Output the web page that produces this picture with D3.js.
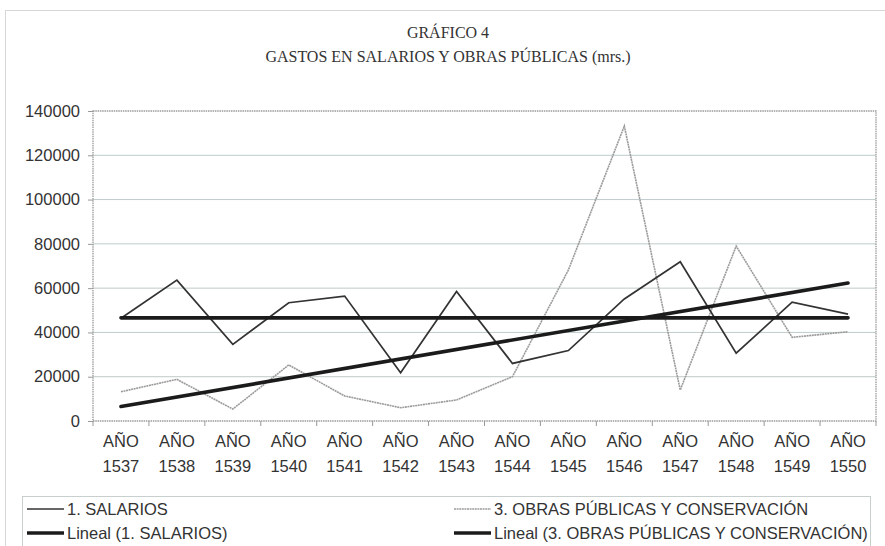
<!DOCTYPE html>
<html>
<head>
<meta charset="utf-8">
<script src="https://cdn.jsdelivr.net/npm/d3@7"></script>
<style>
  body { margin: 0; background: #fff; }
  svg { display: block; }
  .tick text { font-family: "Liberation Sans", Arial, sans-serif; fill: #333; }
</style>
</head>
<body>
<div id="chart"></div>
<script>
const YEARS= ['1537','1538','1539','1540','1541','1542','1543','1544','1545','1546','1547','1548','1549','1550'];
const SALARIOS= [46400, 63600, 34600, 53400, 56400, 21800, 58500, 26000, 31800, 55100, 71900, 30600, 53700, 48300];
const OBRAS= [13200, 18800, 5400, 25300, 11300, 6000, 9500, 20000, 68200, 133200, 14000, 79000, 37800, 40300];
const Y_TICKS= [0, 20000, 40000, 60000, 80000, 100000, 120000, 140000];

const W= 885, H= 546;
const M= { left: 93, right: 9, top: 111, bottom: 125 };
const FONT= '"Liberation Sans", Arial, sans-serif';
const SERIF= '"Liberation Serif", "Times New Roman", serif';
const FS= 16.5;

// least squares fit, like Excel's "Lineal" trendline
function linFit(vals) {
  const n= vals.length;
  const mx= (n-1)/2;
  const my= d3.mean(vals);
  let sxy= 0, sxx= 0;
  vals.forEach((v, i) => { sxy+= (i-mx)*(v-my); sxx+= (i-mx)*(i-mx); });
  const b= sxy/sxx;
  return [my-b*mx, my+b*(n-1-mx)];
}

const svg= d3.select('#chart').append('svg')
  .attr('width', W).attr('height', H);

// outer chart frame
svg.append('rect')
  .attr('x', 5.5).attr('y', 10.5)
  .attr('width', W+10).attr('height', H)
  .attr('fill', 'none').attr('stroke', '#d4d8d8').attr('stroke-width', 1);

svg.append('text')
  .attr('x', 448).attr('y', 38)
  .attr('text-anchor', 'middle')
  .attr('font-family', SERIF).attr('font-size', 16)
  .attr('fill', '#333')
  .text('GRÁFICO 4');

svg.append('text')
  .attr('x', 448).attr('y', 62)
  .attr('text-anchor', 'middle')
  .attr('font-family', SERIF).attr('font-size', 16)
  .attr('fill', '#333')
  .text('GASTOS EN SALARIOS Y OBRAS PÚBLICAS (mrs.)');

const x= d3.scaleBand().domain(YEARS).range([M.left, W-M.right]);
const y= d3.scaleLinear().domain([0, 140000]).range([H-M.bottom, M.top]);
const cx= d => x(d)+x.bandwidth()/2;

// gridlines
svg.append('g')
  .selectAll('line')
  .data(Y_TICKS.slice(1, -1))
  .join('line')
  .attr('x1', M.left).attr('x2', W-M.right)
  .attr('y1', d => y(d)).attr('y2', d => y(d))
  .attr('stroke', '#bfcaca').attr('stroke-width', 1);

// plot area frame
svg.append('rect')
  .attr('x', M.left).attr('y', y(140000))
  .attr('width', W-M.right-M.left).attr('height', y(0)-y(140000))
  .attr('fill', 'none')
  .attr('stroke', '#9a9a9a').attr('stroke-width', 1.3)
  .attr('stroke-dasharray', '1.5,0.8');

const yAxis= svg.append('g')
  .attr('transform', `translate(${M.left},0)`)
  .call(d3.axisLeft(y).tickValues(Y_TICKS).tickSize(5).tickPadding(8).tickFormat(d3.format('d')));
yAxis.select('.domain').remove();
yAxis.selectAll('.tick line').attr('stroke', '#999');
yAxis.selectAll('.tick text').attr('font-size', FS);

const xAxis= svg.append('g')
  .attr('transform', `translate(0,${y(0)})`);
xAxis.selectAll('line')
  .data(d3.range(YEARS.length+1))
  .join('line')
  .attr('x1', i => M.left+i*x.bandwidth())
  .attr('x2', i => M.left+i*x.bandwidth())
  .attr('y1', 0).attr('y2', 5)
  .attr('stroke', '#999');
const xl= xAxis.selectAll('text')
  .data(YEARS)
  .join('text')
  .attr('text-anchor', 'middle')
  .attr('font-family', FONT).attr('font-size', FS)
  .attr('fill', '#333');
xl.append('tspan').attr('x', d => cx(d)).attr('y', 26).text('AÑO');
xl.append('tspan').attr('x', d => cx(d)).attr('y', 51).text(d => d);

const line= d3.line().x((d, i) => cx(YEARS[i])).y(d => y(d));

svg.append('path')
  .datum(OBRAS)
  .attr('d', line)
  .attr('fill', 'none')
  .attr('stroke', '#9b9b9b').attr('stroke-width', 1.6)
  .attr('stroke-dasharray', '2,0.6');

svg.append('path')
  .datum(SALARIOS)
  .attr('d', line)
  .attr('fill', 'none')
  .attr('stroke', '#333').attr('stroke-width', 1.7);

const trends= [linFit(SALARIOS), linFit(OBRAS)];
svg.append('g')
  .selectAll('line')
  .data(trends)
  .join('line')
  .attr('x1', cx(YEARS[0])).attr('x2', cx(YEARS[YEARS.length-1]))
  .attr('y1', d => y(d[0])).attr('y2', d => y(d[1]))
  .attr('stroke', '#1b1b1b').attr('stroke-width', 3.6)
  .attr('stroke-linecap', 'round');

// legend
const lg= svg.append('g');
lg.append('rect')
  .attr('x', 22.5).attr('y', 496.5)
  .attr('width', 848).attr('height', 80)
  .attr('fill', '#fff').attr('stroke', '#c8cfcf');

const LEGEND= [
  { label: '1. SALARIOS', col: 0, row: 0, stroke: '#333', w: 1.7, dash: null },
  { label: '3. OBRAS PÚBLICAS Y CONSERVACIÓN', col: 1, row: 0, stroke: '#9b9b9b', w: 1.6, dash: '2,0.6' },
  { label: 'Lineal (1. SALARIOS)', col: 0, row: 1, stroke: '#1b1b1b', w: 3.6, dash: null },
  { label: 'Lineal (3. OBRAS PÚBLICAS Y CONSERVACIÓN)', col: 1, row: 1, stroke: '#1b1b1b', w: 3.6, dash: null },
];
const colX= [27, 454];
const rowY= [509, 533];

const li= lg.selectAll('g.item')
  .data(LEGEND)
  .join('g')
  .attr('class', 'item')
  .attr('transform', d => `translate(${colX[d.col]},${rowY[d.row]})`);
li.append('line')
  .attr('x1', 0).attr('x2', 37)
  .attr('stroke', d => d.stroke).attr('stroke-width', d => d.w)
  .attr('stroke-dasharray', d => d.dash);
li.append('text')
  .attr('x', 40).attr('y', 6)
  .attr('font-family', FONT).attr('font-size', FS)
  .attr('fill', '#333')
  .text(d => d.label);
</script>
</body>
</html>
